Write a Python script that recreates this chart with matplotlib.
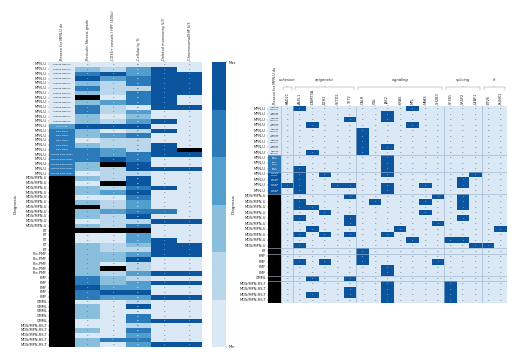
"""Two MPN-U heatmaps: clinical features (left) and gene mutations (right)."""

import numpy as np
import seaborn as sns
import matplotlib
matplotlib.use("Agg")
import matplotlib.pyplot as plt
from matplotlib.colors import ListedColormap

W, H = 520, 363
n = np.nan

# left panel
left_diag = (["MPN-U"] * 24 + ["MDS/MPN-U"] * 11 + ["ET"] * 5 + ["Pre-PMF"] * 5
             + ["PMF"] * 5 + ["CMML"] * 5 + ["MDS/MPN-RS-T"] * 5)
left_cols = ["Reason for MPN-U dx", "Reticulin fibrosis grade", "CD34+ vessels / HPF (400x)",
             "Cellularity %", "Deleted monosomy 5/3", "Chromosomal/HIP 5/3"]
left_reason = [0] * 13 + [3] + [4] * 5 + [4] * 5 + [n] * 36
left_reason_txt = (["Overlap features"] * 13 + ["Late stage"] + ["Early stage"] * 5
                   + ["Myeloid morphology"] * 5 + [""] * 36)
fibrosis = [0, 2, 4, 5, 2, 4, 2, n, 2, 4, 4, 2, 2, 5, 2, 2, 0, 2, 4, 4,
            4, 2, 2, 0, 2, 0, 2, 2, 0, 2, n, 2, 2, 0, 2, n, 0, 0, 2, 2,
            2, 2, 2, 2, 2, 4, 4, 5, 4, 4, 0, 2, 2, 2, 0, 0, 2, 0, 2, 2]
cd34 = [0, 1, 5, 3, 1, 1, 1, 0, 3, 1, 1, 0, 1, 5, 0, 3, 1, 1, 3, 3,
        5, n, 1, 1, 1, n, 1, 3, 0, 1, 1, 3, 1, 1, 1, n, 0, 0, 1, 1,
        2, 2, 0, n, 1, 2, 2, 3, 5, 3, 0, 0, 0, 0, 0, 0, 0, 0, 4, 0]
cellularity = [0, 3, 3, 4, 4, 1, 4, 4, 4, 0, 3, 2, 3, 5, 1, 4, 1, 1, 1, 4,
               4, 5, 5, 1, 5, 5, 4, 5, 4, 3, 3, 4, 5, 1, 4, n, 3, 3, 2, 1,
               3, 5, 1, 1, 3, 1, 3, 3, 5, 3, 1, 5, 0, 4, 4, 1, 4, 3, 4, 3]
deleted = [0, 5, 5, 5, 5, 5, 5, 5, 5, 5, 0, 0, 5, 0, 5, 0, 0, 5, 5, 5,
           0, 0, 5, 0, 0, 0, 5, 0, 0, 0, 0, 4, 0, 5, 0, 0, 0, 5, 5, 5,
           5, 0, 0, 0, 5, 0, 5, 0, 0, 5, 0, 0, 0, 0, 5, 0, 0, 0, 0, 5]
chromosomal = [0, 0, 5, 5, 5, 5, 5, 0, 0, 5, 0, 0, 0, 0, 0, 0, 0, 0, n, 5,
               0, 0, 5, 0, 0, 0, 0, 0, 0, 0, 0, 0, 0, 5, 0, 0, 0, 0, 5, 5,
               5, 0, 0, 0, 5, 0, 5, 0, 0, 5, 0, 0, 0, 0, 5, 0, 0, 0, 0, 5]
fib_txt = {0: "0", 2: "1", 4: "2", 5: "3"}
cell_txt = {0: "50", 1: "60", 2: "70", 3: "75", 4: "80", 5: "90"}
flag_txt = {0: "0", 4: "1", 5: "1"}

# right panel
right_diag = (["MPN-U"] * 16 + ["MDS/MPN-U"] * 10 + ["ET"] + ["PMF"] * 4
              + ["CMML"] + ["MDS/MPN-RS-T"] * 4)
right_reason = [0] * 9 + [4] * 3 + [5] * 4 + [n] * 20
right_reason_txt = (["Overlap\nfeatures"] * 9 + ["Early\nstage"] * 3
                    + ["Myeloid\nmorph."] * 4 + [""] * 20)
genes = ["RAD21", "ASXL1", "DNMT3A", "EZH2", "SETD2", "TET2", "CALR", "CBL", "JAK2",
         "KRAS", "MPL", "NRAS", "SH2B3", "SF3B1", "SRSF2", "U2AF1", "ETV6", "RUNX1"]
rad21 = [14]
asxl1 = [0, 11, 12, 13, 14, 15, 17, 18, 20, 23, 25, 28]
dnmt3a = [3, 8, 18, 22, 31, 34]
ezh2 = [12, 19, 23, 28]
setd2 = [14]
tet2 = [2, 14, 16, 20, 21, 23, 31, 33, 34]
calr = [4, 5, 6, 7, 8, 26, 27, 28]
cbl = [17]
jak2 = [1, 2, 7, 9, 10, 11, 12, 14, 15, 23, 29, 30, 32, 33, 34, 35]
kras = [22]
mpl = [0, 3, 24]
nras = [14, 17, 19]
sh2b3 = [16, 21, 28]
sf3b1 = [24, 32, 33, 34, 35]
srsf2 = [13, 14, 16, 17, 18, 20, 24]
u2af1 = [12, 25]
etv6 = [25]
runx1 = [22]
gene_rows = [rad21, asxl1, dnmt3a, ezh2, setd2, tet2, calr, cbl, jak2,
             kras, mpl, nras, sh2b3, sf3b1, srsf2, u2af1, etv6, runx1]
group_names = ["cohesion", "epigenetic", "signaling", "splicing", "tf"]
group_spans = [(1, 2), (2, 7), (7, 14), (14, 17), (17, 19)]
row_breaks = [9, 12, 16, 26, 27, 31, 32]
col_breaks = [1, 2, 7, 14, 17]

cmap = ListedColormap(sns.color_palette("Blues", 6))
TXT = "#222222"
LINE = "#9db3cf"


def axes_px(fig, x0, y0, x1, y1):
    return fig.add_axes([x0 / W, 1 - y1 / H, (x1 - x0) / W, (y1 - y0) / H])


def label_txt(values, mapping):
    return ["" if np.isnan(v) else mapping.get(v, str(int(v))) for v in values]


def style_axes(ax, xlabels, ylabels):
    ax.xaxis.tick_top()
    ax.set_xticks(np.arange(len(xlabels)) + 0.5, labels=xlabels, rotation=90, fontsize=2.5, color=TXT)
    ax.set_yticks(np.arange(len(ylabels)) + 0.5, labels=ylabels, rotation=0, fontsize=2.6, color=TXT)
    ax.tick_params(axis="both", length=1, width=0.25, pad=0.6, color=TXT)
    ax.set_facecolor("black")


fig = plt.figure(figsize=(W / 100, H / 100), dpi=100, facecolor="white")

# left heatmap
ax1 = axes_px(fig, 49.3, 62, 202.3, 347)
cax = axes_px(fig, 212, 62, 226, 347)
left_data = np.array([left_reason, fibrosis, cd34, cellularity, deleted, chromosomal], dtype=float).T
left_annot = np.array([
    left_reason_txt,
    label_txt(fibrosis, fib_txt),
    label_txt(cd34, {}),
    label_txt(cellularity, cell_txt),
    label_txt(deleted, flag_txt),
    label_txt(chromosomal, flag_txt),
], dtype=object).T
sns.heatmap(left_data, ax=ax1, cbar_ax=cax, cmap=cmap, vmin=0, vmax=5,
            annot=left_annot, fmt="", annot_kws={"fontsize": 1.5})
style_axes(ax1, left_cols, left_diag)
ax1.set_ylabel("Diagnosis", fontsize=3, color=TXT)
ax1.yaxis.set_label_coords(-0.205, 0.5)

cbar = ax1.collections[0].colorbar
cbar.set_ticks([0, 5])
cbar.set_ticklabels(["Min", "Max"])
cbar.ax.tick_params(length=1, width=0.25, pad=0.8, labelsize=2.6, labelcolor=TXT)
cbar.outline.set_visible(False)

# right heatmap
ax2 = axes_px(fig, 268.3, 106, 507, 303)
right_data = np.zeros((len(right_diag), len(genes) + 1))
right_data[:, 0] = right_reason
for j, rows in enumerate(gene_rows):
    right_data[rows, j + 1] = 5
right_annot = np.empty(right_data.shape, dtype=object)
right_annot[:, 0] = right_reason_txt
right_annot[:, 1:] = np.where(right_data[:, 1:] == 5, "1", "0")
sns.heatmap(right_data, ax=ax2, cbar=False, cmap=cmap, vmin=0, vmax=5,
            annot=right_annot, fmt="", annot_kws={"fontsize": 1.5})
style_axes(ax2, ["Reason for MPN-U dx"] + genes, right_diag)
ax2.set_ylabel("Diagnosis", fontsize=3, color=TXT)
ax2.yaxis.set_label_coords(-0.135, 0.5)
for r in row_breaks:
    ax2.axhline(r, color=LINE, lw=0.45)
for c in col_breaks:
    ax2.axvline(c, color=LINE, lw=0.45)

# gene group brackets above the columns
trans = ax2.get_xaxis_transform()
for name, (c0, c1) in zip(group_names, group_spans):
    xa, xb = c0 + 0.15, c1 - 0.15
    ya, yb = 1 + 16 / 197, 1 + 18.5 / 197
    ax2.plot([xa, xa, xb, xb], [ya, yb, yb, ya], transform=trans, color="#999999",
             lw=0.35, clip_on=False)
    ax2.plot([(xa + xb) / 2] * 2, [yb, yb + 1.5 / 197], transform=trans, color="#999999",
             lw=0.35, clip_on=False)
    ax2.text((c0 + c1) / 2, 1 + 26 / 197, name, transform=trans, ha="center", va="center",
             fontsize=2.7, style="italic", color=TXT)

fig.savefig("out.png", dpi=100)
plt.close(fig)
